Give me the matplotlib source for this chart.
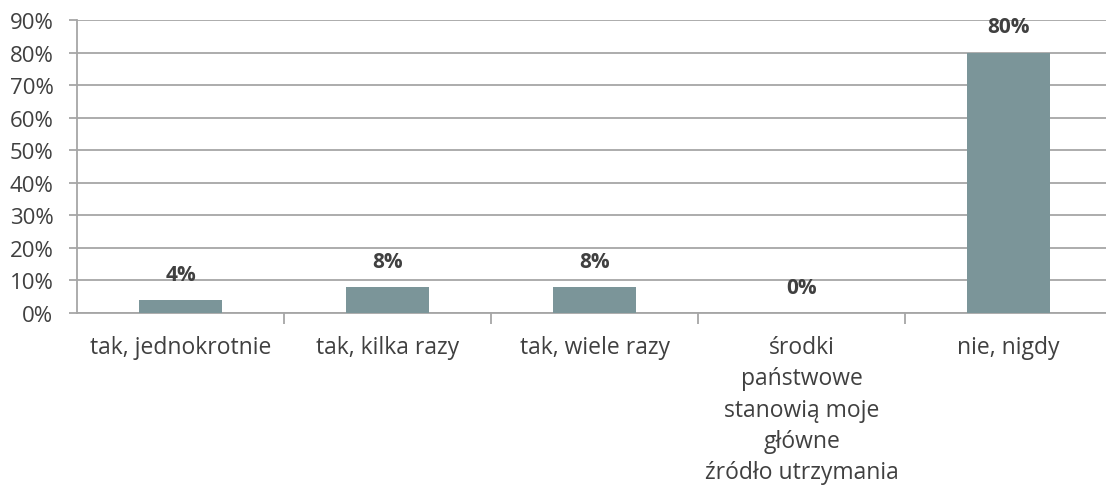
import numpy as np
from matplotlib import pyplot as plt
from matplotlib.ticker import PercentFormatter

categories = ["tak, jednokrotnie", "tak, kilka razy", "tak, wiele razy",
              "środki\npaństwowe\nstanowią moje\ngłówne\nźródło utrzymania",
              "nie, nigdy"]
values = [4, 8, 8, 0, 80]
value_labels = ["4%", "8%", "8%", "0%", "80%"]
yticks = [0, 10, 20, 30, 40, 50, 60, 70, 80, 90]

plt.rcParams['font.family'] = ['Open Sans', 'DejaVu Sans']
text_color = '#404040'
grid_color = '#a6a6a6'

fig = plt.figure(figsize=(11.06, 4.89), dpi=100)
ax = fig.add_axes([77 / 1106, 1 - 314 / 489, 1 - 77 / 1106, (314 - 21) / 489])

x = np.arange(len(categories))
ax.bar(x, values, width=0.4, color='#7b9599', zorder=3)

for xi, v, lab in zip(x, values, value_labels):
    ax.annotate(lab, (xi, v), xytext=(0, 11), textcoords='offset points',
                ha='center', va='bottom', fontsize=15, fontweight='bold',
                color=text_color, zorder=4)

ax.set_ylim(0, 90)
ax.set_xlim(-0.5, 4.47)
ax.set_yticks(yticks)
ax.yaxis.set_major_formatter(PercentFormatter(decimals=0))
ax.grid(axis='y', color=grid_color, linewidth=1.3, zorder=0)

ax.set_xticks(x)
ax.set_xticklabels(categories, fontsize=16.5, color=text_color, linespacing=1.4)
ax.set_xticks(np.arange(len(categories) - 1) + 0.5, minor=True)
ax.tick_params(axis='x', which='major', length=0, pad=16)
ax.tick_params(axis='x', which='minor', length=8, width=1.3, color=grid_color)
ax.tick_params(axis='y', length=6, width=1.3, color=grid_color,
               labelsize=16, labelcolor=text_color, pad=11)

for side in ['top', 'right']:
    ax.spines[side].set_visible(False)
for side in ['left', 'bottom']:
    ax.spines[side].set_color(grid_color)
    ax.spines[side].set_linewidth(1.3)

fig.savefig('out.png', dpi=100)
